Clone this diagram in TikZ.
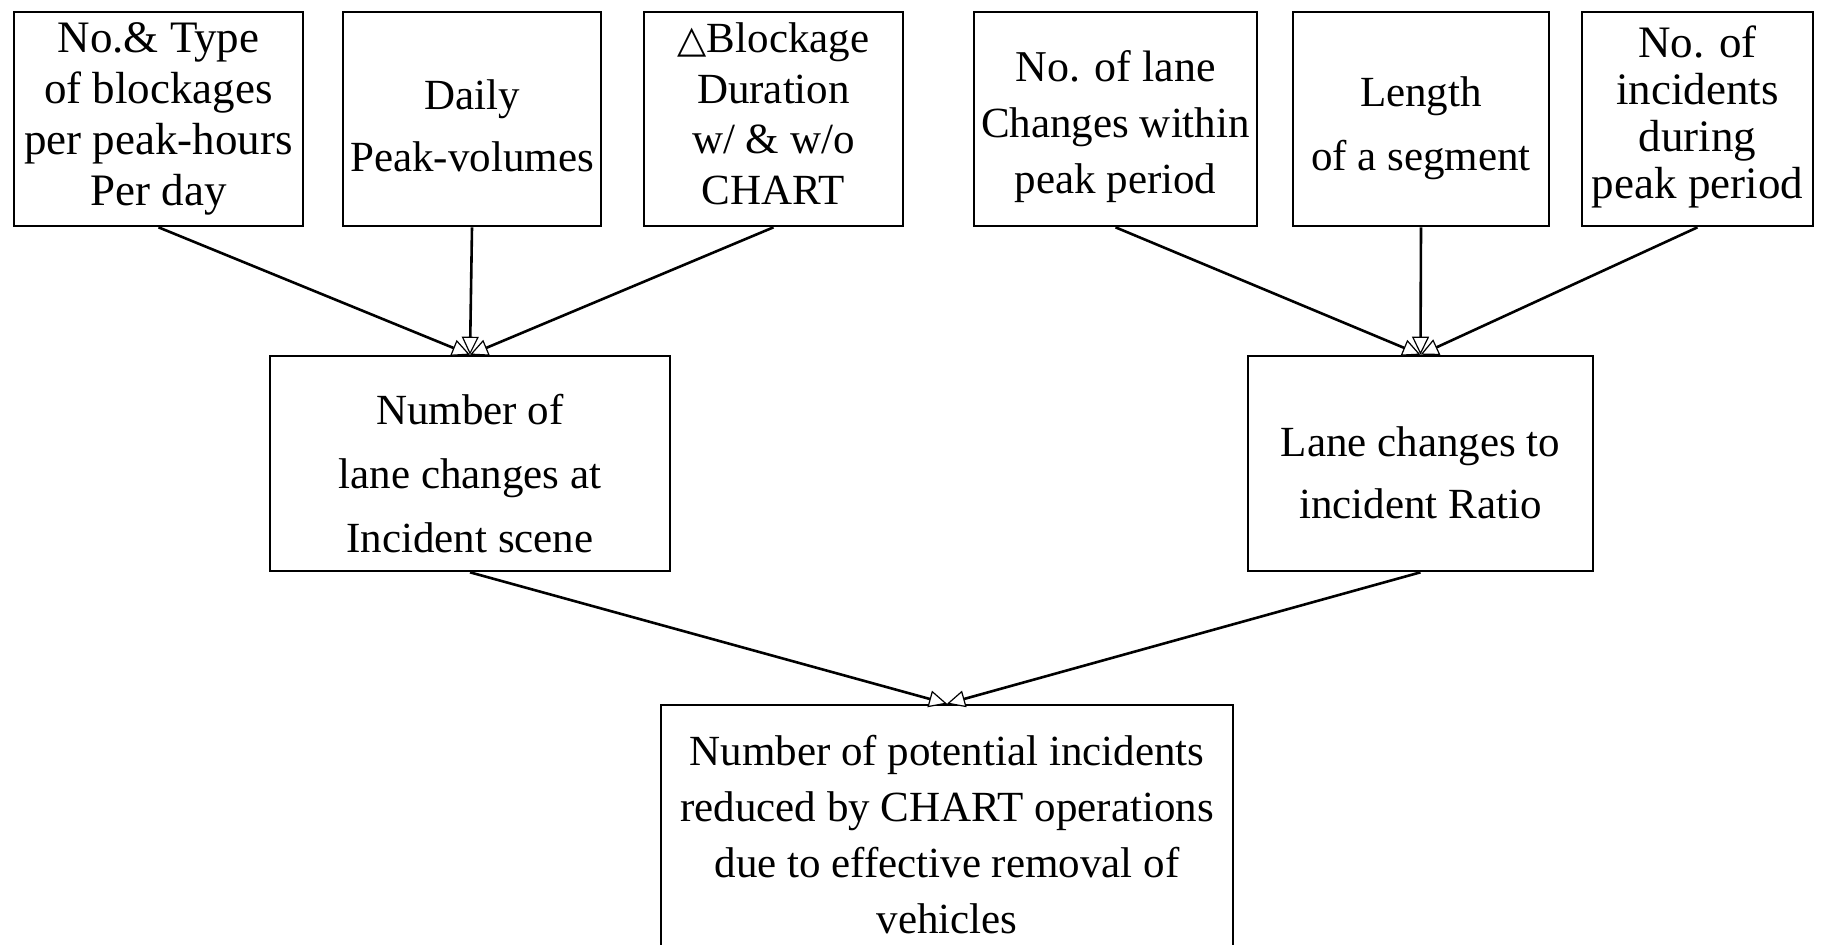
\documentclass[tikz,border=0pt]{standalone}
\usepackage{fontspec}
\setmainfont{Liberation Serif}
\newfontfamily\symf{DejaVu Sans}
\usetikzlibrary{arrows.meta}
\begin{document}
\begin{tikzpicture}[x=0.5pt,y=-0.5pt,
  tbox/.style={draw,line width=1.3pt,inner sep=0pt},
  txt/.style={inner sep=0pt,align=center,font=\fontsize{21.5}{#1}\selectfont},
  bigtxt/.style={inner sep=0pt,align=center,font=\fontsize{22.5}{#1}\selectfont},
  conn/.style={line width=1.3pt,
    -{Triangle[length=9pt,width=8.5pt,fill=white,line width=0.6pt]}}]
\useasboundingbox (0,0) rectangle (1827,944);
\fill[white] (0,0) rectangle (1827,944);
% top row boxes
\node[tbox,minimum width=144.5pt,minimum height=107pt] (b1) at (158.5,119) {};
\node[tbox,minimum width=129pt,minimum height=107pt] (b2) at (472,119) {};
\node[tbox,minimum width=129.5pt,minimum height=107pt] (b3) at (773.5,119) {};
\node[tbox,minimum width=141.5pt,minimum height=107pt] (b4) at (1115.5,119) {};
\node[tbox,minimum width=128pt,minimum height=107pt] (b5) at (1421,119) {};
\node[tbox,minimum width=115.5pt,minimum height=107pt] (b6) at (1697.5,119) {};
% middle row boxes
\node[tbox,minimum width=200pt,minimum height=107.5pt] (m1) at (470,463.5) {};
\node[tbox,minimum width=172.5pt,minimum height=107.5pt] (m2) at (1420.5,463.5) {};
% bottom box
\node[tbox,minimum width=286pt,minimum height=130pt] (bot) at (947,835) {};
% texts
\node[bigtxt=25.5] (b1t) at (b1.center)
  {No.\& Type\\ of blockages\\ per peak-hours\\ Per day};
\node[txt=31] (b2t) at ([yshift=-3.5pt]b2.center) {Daily\\ Peak-volumes};
\node[txt=25.2] (b3t) at ([yshift=2.6pt]b3.center)
  {{\symf\fontsize{19}{19}\selectfont △}Blockage\\ Duration\\ w/ \& w/o\\ CHART};
\node[txt=28] (b4t) at ([yshift=-4pt]b4.center)
  {\fontsize{22}{28}\selectfont No. of lane\\ Changes within\\ peak period};
\node[txt=32] (b5t) at ([yshift=-4.7pt]b5.center) {Length\\ of a segment};
\node[bigtxt=23.5] (b6t) at ([yshift=1pt]b6.center)
  {No. of\\ incidents\\ during\\ peak period};
\node[txt=32] (m1t) at ([yshift=-5.2pt]m1.center)
  {Number of\\ lane changes at\\ Incident scene};
\node[txt=31] (m2t) at ([yshift=-4.7pt]m2.center)
  {Lane changes to\\ incident Ratio};
\node[txt=28] (bott) at (bot.center)
  {Number of potential incidents\\ reduced by CHART operations\\ due to effective removal of\\ vehicles};
% connectors
\draw[conn] (b1.south) -- (m1.north);
\draw[conn] (b3.south) -- (m1.north);
\draw[conn] (b2.south) -- (m1.north);
\draw[conn] (b4.south) -- (m2.north);
\draw[conn] (b6.south) -- (m2.north);
\draw[conn] (b5.south) -- (m2.north);
\draw[conn] (m1.south) -- (bot.north);
\draw[conn] (m2.south) -- (bot.north);
\end{tikzpicture}
\end{document}
